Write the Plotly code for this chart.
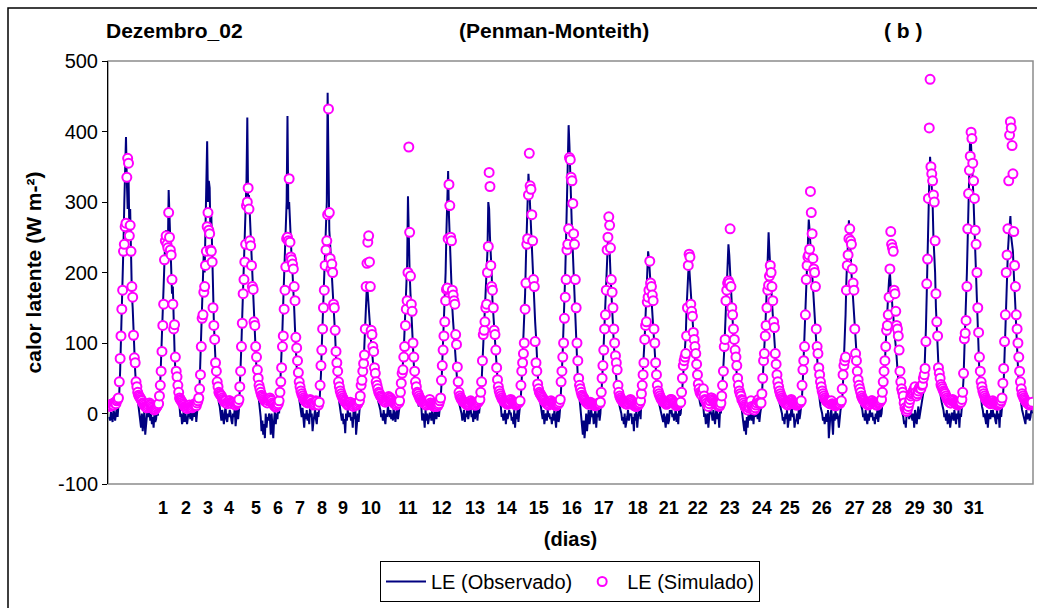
import plotly.graph_objects as go

# Half-hourly latent heat flux (W m-2), 23 plotted days x 48 values
obs = [
    -5,-10,2,-8,-12,5,0,-10,3,8,-5,10, 30,60,100,140,180,240,300,350,392,330,290,340, 260,290,210,170,150,110,80,60,40,30,20,10, 5,-5,-20,0,-25,-10,5,-30,-15,0,10,-5,
    5,-10,0,-15,-5,-20,0,-12,-8,5,-3,10, 20,45,80,110,150,180,230,250,260,240,230,317, 270,240,200,170,180,120,90,60,45,30,20,15, 10,-5,0,-15,-10,5,-12,0,-8,-15,-5,5,
    0,-8,5,-10,-2,8,-5,10,-12,0,15,5, 40,70,110,150,190,230,200,260,290,386,300,330, 320,250,280,210,180,130,100,70,50,40,25,15, 10,0,-10,5,-5,-15,0,10,-8,-12,0,-5,
    5,0,-10,-15,0,-5,8,-18,-5,10,-8,5, 35,60,100,140,180,210,250,300,330,420,300,310, 280,260,230,200,180,140,110,80,60,40,30,20, 10,-5,-25,-10,-30,-15,-35,0,-20,-5,-10,0,
    -5,-30,0,-20,-35,-10,5,-15,0,-8,10,0, 25,50,90,120,160,200,250,280,300,422,290,300, 270,230,220,200,180,150,120,90,60,40,30,20, 10,0,-5,8,-10,-20,0,-8,5,-10,0,-15,
    10,-5,0,-25,-12,0,5,-8,-15,2,-5,10, 30,55,95,130,170,220,250,280,300,455,320,260, 240,220,200,180,160,130,110,80,55,40,25,15, 5,-5,-10,0,-15,-8,-28,0,-10,5,-5,0,
    0,-10,-5,-20,5,-8,10,-30,-3,0,-12,5, 20,35,40,55,70,100,130,160,185,170,150,140, 120,100,90,70,60,50,40,30,25,20,15,10, 5,-5,0,-10,5,-8,-15,0,-5,10,0,-5,
    5,-8,0,-10,10,-5,-12,0,5,-8,0,15, 20,35,50,70,90,120,150,180,210,308,230,200, 170,140,110,90,70,50,35,25,20,15,10,20, 30,10,-10,0,-5,-20,5,-10,0,-15,-5,0,
    0,-10,5,-5,-15,0,8,-8,0,10,-5,5, 20,40,70,100,140,160,200,260,300,344,280,240, 220,180,150,130,110,90,70,50,35,25,15,10, 5,0,-10,-5,5,-12,0,-5,10,-8,0,5,
    5,-5,0,-12,8,-8,0,10,-10,5,0,10, 25,45,70,100,130,150,170,200,230,300,290,250, 230,200,160,140,120,100,80,60,40,30,20,15, 10,-5,0,-10,-5,5,-15,0,-8,-3,5,0,
    0,-10,-5,-15,5,-20,0,-8,5,-12,0,8, 25,50,80,100,140,170,220,260,300,340,320,290, 270,240,220,180,150,130,110,80,50,35,25,15, 10,0,-8,5,-15,-5,0,-10,5,-5,0,-8,
    -5,-15,0,-10,5,-8,-20,0,5,-12,-5,10, 30,60,90,120,160,200,250,300,340,409,380,330, 300,260,230,200,160,120,100,80,50,35,20,10, 0,-15,-30,-10,-35,-20,0,-25,-10,5,-15,0,
    5,-5,0,-15,-8,10,-20,0,-5,5,-10,0, 20,45,70,100,130,160,200,230,245,240,230,200, 170,150,120,100,80,60,50,35,25,15,10,5, 0,-10,-5,-15,0,-20,-8,-5,5,-10,0,-3,
    0,-15,-5,-25,0,-10,5,-20,-5,0,10,-8, 20,40,60,90,110,140,170,200,230,220,200,180, 160,140,120,100,80,60,45,30,20,15,10,5, 0,-5,-12,0,-8,-20,-5,0,-15,-10,5,0,
    5,-5,0,-10,-5,8,-12,0,-15,5,-3,0, 20,40,55,70,90,110,150,180,200,210,190,170, 150,130,110,100,80,70,50,40,30,20,15,10, 25,35,10,-5,0,-15,-5,0,-20,-5,10,0,
    0,-10,5,-5,-15,0,10,-8,0,-20,5,0, 20,40,60,90,120,150,180,210,240,225,200,170, 150,130,110,100,90,70,50,40,30,20,15,10, 5,-5,-15,-25,-10,-30,-5,-20,0,-10,-5,5,
    -10,0,-15,5,-5,10,0,-8,5,-12,0,8, 25,45,70,90,120,150,180,220,257,230,200,180, 160,140,120,100,80,60,45,30,20,15,10,5, 0,-10,-5,-15,0,-8,5,-20,-5,0,-10,5,
    5,-5,0,-20,-10,-10,0,-15,5,-8,0,10, 25,50,80,110,150,180,210,250,275,260,240,220, 200,180,160,140,120,90,70,50,30,20,10,5, 0,-10,-5,-15,-8,0,-12,5,-35,-10,0,5,
    -15,-30,0,-10,5,-8,0,-5,-20,0,5,10, 20,45,70,100,140,190,220,250,274,240,230,200, 180,170,150,120,100,80,60,45,30,20,15,10, 5,-5,0,-10,5,-8,-15,0,-10,5,-5,0,
    0,-10,-5,-15,0,-8,5,-12,0,10,-5,0, 15,30,50,70,100,130,150,170,190,200,180,170, 150,140,120,110,95,80,60,45,30,20,10,5, 0,-5,-15,-10,-20,0,-5,10,-8,0,5,-5,
    -10,0,-20,5,-5,-15,0,10,-8,0,5,10, 20,30,50,80,120,170,230,300,330,364,340,320, 300,250,230,200,150,120,90,60,40,30,20,15, 10,5,-5,0,-10,5,-15,-5,0,-20,-5,0,
    0,-10,5,-5,-15,0,-8,5,-20,0,-5,10, 25,50,90,120,150,200,250,300,350,400,380,360, 330,300,260,220,180,150,110,80,55,35,20,10, 5,-5,0,-10,-15,5,-20,-5,0,-8,5,-5,
    5,-5,0,-10,-15,5,-8,0,-20,5,-5,10, 20,45,90,120,160,200,230,250,270,280,250,240, 230,200,180,150,120,90,60,40,30,20,10,5, 0,-5,-10,-15,5,-8,-5,0,-10,-5,5,0,
]

sim = [
    12,10,11,13,14,12,15,16,14,18,20,22, 45,78,110,148,175,230,240,265,270,335,362,355, 252,267,230,180,165,111,79,72,45,38,30,26, 24,22,20,18,15,14,12,10,9,8,10,12,
    15,13,12,10,8,6,5,6,8,10,12,14, 25,40,60,88,125,155,218,245,252,240,235,285, 250,232,225,190,155,120,126,80,60,52,40,30, 22,20,18,16,14,12,10,9,8,7,9,10,
    12,10,9,8,10,12,14,13,11,15,18,22, 35,55,95,135,140,172,180,210,230,265,285,260, 255,232,230,215,150,125,105,72,60,45,38,30, 28,26,25,22,20,18,16,18,15,14,16,18,
    18,16,15,14,16,15,13,12,14,15,16,20, 38,60,95,128,170,190,215,240,295,300,320,290, 245,238,210,180,176,130,125,95,80,62,50,40, 35,30,26,24,22,20,18,17,16,15,18,20,
    22,20,18,15,13,12,10,9,10,12,14,18, 30,45,65,95,110,148,175,208,248,250,245,333, 243,222,218,212,205,180,160,108,93,75,58,45, 38,32,28,25,22,20,18,17,16,15,16,18,
    20,18,15,14,12,13,15,18,17,14,12,16, 40,68,90,120,150,175,210,232,245,282,432,285, 220,205,212,200,155,150,118,88,72,60,45,38, 32,28,25,22,20,18,17,15,14,12,13,15,
    16,14,12,11,10,12,14,13,12,14,16,18, 25,40,47,60,71,83,120,180,213,243,252,215, 180,118,112,95,88,65,57,45,40,35,30,28, 25,24,22,20,18,17,16,18,20,22,24,22,
    22,20,18,16,15,14,13,12,14,16,15,18, 30,43,57,62,80,95,125,148,160,200,378,257, 195,155,145,100,80,60,45,38,30,28,25,22, 20,18,17,16,15,14,13,12,14,16,18,20,
    15,13,12,11,10,10,11,12,10,12,14,18, 22,47,68,90,110,130,160,176,178,248,325,295, 250,245,175,168,160,155,112,98,66,45,30,25, 22,20,18,17,16,15,14,13,12,12,13,15,
    18,16,15,14,13,12,12,14,15,16,18,20, 30,45,75,112,118,130,150,155,200,237,342,322, 210,180,175,150,118,112,90,65,48,38,32,28, 25,22,20,18,17,16,15,14,13,14,15,16,
    20,18,16,15,14,13,12,13,14,15,16,18, 40,60,72,85,100,148,185,240,248,310,369,323, 318,282,245,190,180,102,72,60,42,35,30,28, 26,24,22,20,18,16,15,14,13,12,14,16,
    18,16,15,14,13,12,11,12,13,14,16,20, 45,60,80,100,135,165,190,232,240,262,363,360, 335,330,298,255,240,190,150,100,75,50,40,35, 30,26,24,22,20,18,16,15,14,13,15,16,
    15,14,13,12,12,11,12,13,14,15,14,16, 30,50,68,90,120,140,175,232,250,279,267,235, 190,172,150,120,100,82,72,62,40,30,25,22, 20,18,17,16,15,14,14,13,15,16,18,20,
    18,16,14,12,11,10,10,11,12,13,15,18, 28,40,55,72,105,125,130,158,165,175,216,185, 180,168,160,120,100,72,55,40,32,28,25,22, 20,18,17,16,15,14,13,14,15,16,18,20,
    20,18,16,15,14,12,11,12,13,14,15,16, 30,50,68,75,80,85,110,150,210,226,222,155, 145,138,115,105,95,85,70,55,42,35,30,28, 26,30,35,25,20,18,15,12,10,14,18,22,
    22,20,18,16,15,14,13,12,11,10,12,15, 25,40,60,95,105,160,175,185,188,185,262,180, 150,140,120,105,90,80,68,50,40,32,28,25, 20,18,15,12,10,8,6,5,8,10,14,18,
    10,8,6,5,8,12,15,18,20,16,14,15, 28,50,75,85,110,125,150,175,182,195,210,200, 180,160,130,122,85,70,55,45,38,32,28,25, 22,20,18,16,15,14,13,12,14,16,18,20,
    18,16,15,14,13,12,12,13,14,15,16,18, 40,62,75,95,140,190,210,222,225,233,315,285, 255,220,205,200,180,120,95,85,65,55,45,38, 32,28,25,22,20,18,17,16,15,14,16,18,
    14,13,12,12,11,12,13,14,15,14,16,18, 35,55,68,75,80,175,210,225,248,262,245,240, 205,185,175,120,85,75,60,48,40,35,30,25, 22,20,18,16,15,14,13,12,13,14,16,18,
    18,16,15,14,13,12,12,14,15,16,18,20, 30,45,60,75,95,118,125,140,165,205,258,240, 235,230,175,170,145,125,120,110,90,60,45,35, 30,25,15,8,5,3,6,10,15,20,25,28,
    30,32,35,38,30,25,28,32,36,38,35,40, 41,50,55,64,102,184,219,305,405,474,350,340, 330,310,300,245,170,130,110,65,57,50,41,38, 35,32,30,28,25,22,20,18,16,15,15,18,
    20,18,16,15,14,13,12,13,14,15,16,20, 30,57,106,114,132,180,262,312,345,365,399,390, 355,330,305,260,240,200,150,115,80,60,45,38, 32,28,25,22,20,18,17,16,15,14,15,17,
    18,16,15,14,13,12,12,13,14,15,18,22, 43,64,102,140,200,225,262,330,395,414,405,380, 340,258,210,180,140,120,100,80,60,45,35,28, 25,22,20,18,16,15,14,13,12,13,14,16,
]

tick_text = ["1", "2", "3", "4", "5", "6", "7", "8", "9", "10", "11", "12", "13", "14",
             "15", "16", "17", "18", "21", "22", "23", "24", "25", "26", "27", "28",
             "29", "30", "31"]
tick_pos = [64.2, 91.7, 118.0, 143.1, 175.3, 201.6, 227.9, 254.2, 279.3, 312.7, 356.9,
            397.5, 437.0, 475.2, 513.4, 552.9, 591.1, 631.7, 668.8, 703.4, 741.6, 779.9,
            813.3, 851.5, 891.0, 923.2, 962.7, 996.1, 1033.1]

y_ticks = [-100, 0, 100, 200, 300, 400, 500]
y_tick_text = ["-100", "0", "100", "200", "300", "400", "500"]

fig = go.Figure()
fig.add_trace(go.Scatter(
    x=list(range(len(obs))), y=obs, mode="lines", name="LE (Observado)",
    line=dict(color="#000080", width=2),
))
fig.add_trace(go.Scatter(
    x=list(range(len(sim))), y=sim, mode="markers", name="LE (Simulado)",
    marker=dict(symbol="circle", size=9, color="white",
                line=dict(color="#FF00FF", width=2)),
))

W, H = 1037, 608
L, R, T, B = 108, 4, 61, 124
pw, ph = W - L - R, H - T - B


def px_x(p):
    return (p - L) / pw


def px_y(p):
    return (H - B - p) / ph


fig.update_layout(
    width=W, height=H,
    margin=dict(l=L, r=R, t=T, b=B),
    paper_bgcolor="white", plot_bgcolor="white",
    font=dict(family="Arial", color="black"),
    showlegend=True,
    legend=dict(
        orientation="h", x=px_x(380), xanchor="left", y=px_y(561), yanchor="top",
        bordercolor="black", borderwidth=1, bgcolor="white",
        font=dict(size=20, family="Arial"), itemwidth=40, tracegroupgap=0,
    ),
    xaxis=dict(
        range=[-1.5, 1104], tickmode="array", tickvals=tick_pos, ticktext=tick_text,
        ticks="", showgrid=False, zeroline=False, showline=False,
        tickfont=dict(size=18, family="Arial", weight="bold"),
        ticklabelstandoff=11,
        title=dict(text="(dias)", font=dict(size=20, family="Arial", weight="bold"),
                   standoff=14),
    ),
    yaxis=dict(
        range=[-100, 500], tickmode="array", tickvals=y_ticks, ticktext=y_tick_text,
        ticks="outside", ticklen=5,
        tickcolor="black", tickwidth=1, showline=True, linecolor="black", linewidth=1,
        showgrid=False, zeroline=False,
        tickfont=dict(size=20, family="Arial"),
        title=dict(text="calor latente (W m-²)",
                   font=dict(size=21, family="Arial", weight="bold"), standoff=10),
    ),
    shapes=[
        dict(type="rect", xref="paper", yref="paper", x0=0, x1=1, y0=0, y1=1,
             line=dict(color="#8c8c8c", width=1.5), layer="below"),
        dict(type="rect", xref="paper", yref="paper",
             x0=px_x(8), x1=px_x(1045), y0=px_y(615), y1=px_y(8),
             line=dict(color="black", width=1.5), layer="below"),
    ],
    annotations=[
        dict(text="Dezembro_02", xref="paper", yref="paper", x=px_x(104), y=px_y(30),
             xanchor="left", yanchor="middle", showarrow=False,
             font=dict(size=21, family="Arial", weight="bold")),
        dict(text="(Penman-Monteith)", xref="paper", yref="paper", x=px_x(554), y=px_y(30),
             xanchor="center", yanchor="middle", showarrow=False,
             font=dict(size=21, family="Arial", weight="bold")),
        dict(text="( b )", xref="paper", yref="paper", x=px_x(903), y=px_y(30),
             xanchor="center", yanchor="middle", showarrow=False,
             font=dict(size=21, family="Arial", weight="bold")),
    ],
)

fig.write_html("out.html")
